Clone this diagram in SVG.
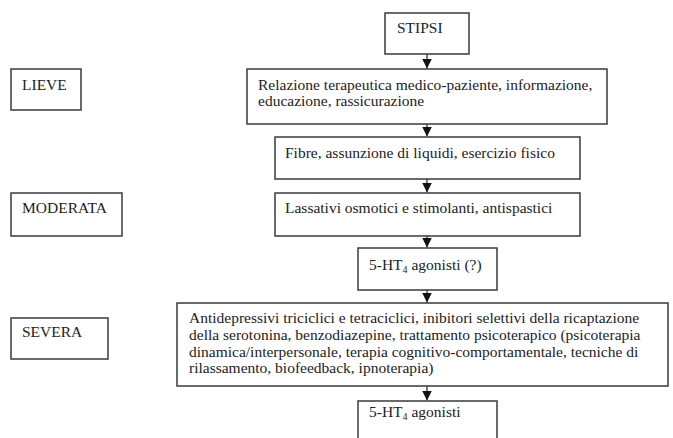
<svg xmlns="http://www.w3.org/2000/svg" width="673" height="438" viewBox="0 0 673 438">
<style>
.box{fill:#fff;stroke:#3a3a3a;stroke-width:1.5}
.t{font-family:"Liberation Serif","DejaVu Serif",serif;font-size:15.5px;fill:#222}
.ln{stroke:#222;stroke-width:1.2;fill:none}
</style>
<defs>
<marker id="ah" viewBox="0 0 10 10" refX="10" refY="5" markerWidth="10" markerHeight="10" markerUnits="userSpaceOnUse" orient="auto">
<path d="M0,0 L10,5 L0,10 z" fill="#111"/>
</marker>
</defs>
<rect width="673" height="438" fill="#fff"/>
<g id="connectors">
<line class="ln" x1="427" y1="54" x2="427" y2="68.5" marker-end="url(#ah)"/>
<line class="ln" x1="427" y1="124" x2="427" y2="136.5" marker-end="url(#ah)"/>
<line class="ln" x1="427" y1="179" x2="427" y2="192.5" marker-end="url(#ah)"/>
<line class="ln" x1="427" y1="236" x2="427" y2="247.5" marker-end="url(#ah)"/>
<line class="ln" x1="427" y1="290" x2="427" y2="302.5" marker-end="url(#ah)"/>
<line class="ln" x1="427" y1="386" x2="427" y2="400.5" marker-end="url(#ah)"/>
</g>
<g id="stipsi"><rect class="box" x="385" y="13" width="84" height="41"/><text class="t" x="397" y="33">STIPSI</text></g>
<g id="lieve"><rect class="box" x="11" y="69" width="70" height="41"/><text class="t" x="22" y="90">LIEVE</text></g>
<g id="relazione"><rect class="box" x="247" y="69" width="360" height="55"/><text class="t" x="258" y="90">Relazione terapeutica medico-paziente, informazione,</text><text class="t" x="258" y="106">educazione, rassicurazione</text></g>
<g id="fibre"><rect class="box" x="275" y="137" width="305" height="42"/><text class="t" x="285" y="158">Fibre, assunzione di liquidi, esercizio fisico</text></g>
<g id="moderata"><rect class="box" x="11" y="193" width="111" height="43"/><text class="t" x="22" y="213">MODERATA</text></g>
<g id="lassativi"><rect class="box" x="275" y="193" width="305" height="43"/><text class="t" x="285" y="213">Lassativi osmotici e stimolanti, antispastici</text></g>
<g id="ht4a"><rect class="box" x="358" y="248" width="139" height="42"/><text class="t" x="369" y="270">5-HT<tspan font-size="10" dy="3">4</tspan><tspan dy="-3"> agonisti (?)</tspan></text></g>
<g id="severa"><rect class="box" x="11" y="318" width="97" height="41"/><text class="t" x="22" y="337">SEVERA</text></g>
<g id="antidep"><rect class="box" x="177" y="303" width="491" height="83"/>
<text class="t" x="189" y="323">Antidepressivi triciclici e tetraciclici, inibitori selettivi della ricaptazione</text>
<text class="t" x="189" y="340">della serotonina, benzodiazepine, trattamento psicoterapico (psicoterapia</text>
<text class="t" x="189" y="357">dinamica/interpersonale, terapia cognitivo-comportamentale, tecniche di</text>
<text class="t" x="189" y="373">rilassamento, biofeedback, ipnoterapia)</text></g>
<g id="ht4b"><rect class="box" x="358" y="401" width="139" height="45"/><text class="t" x="369" y="417">5-HT<tspan font-size="10" dy="3">4</tspan><tspan dy="-3"> agonisti</tspan></text></g>
</svg>
